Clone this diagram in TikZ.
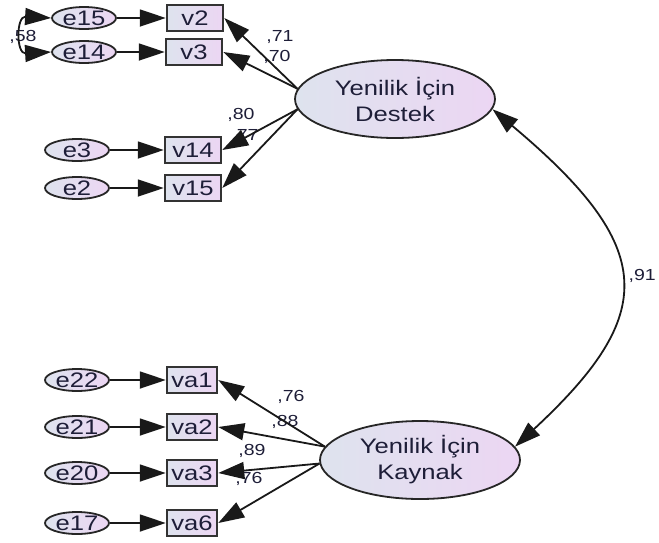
\documentclass[tikz,border=0pt]{standalone}
\usepackage{fontspec}
\setmainfont{Liberation Sans}[FakeStretch=1.22]
\usetikzlibrary{arrows.meta,shapes.geometric}
\definecolor{txt}{HTML}{1E1E38}
\definecolor{lc}{HTML}{DEE3EE}
\definecolor{rc}{HTML}{ECD6F3}
\begin{document}
\begin{tikzpicture}[x=1pt,y=-1pt,
  obs/.style={draw=black!80, line width=2.5pt, left color=lc, right color=rc,
    minimum width=56pt, minimum height=26pt, inner sep=0pt,
    font=\fontsize{21}{21}\selectfont, text=txt},
  obsb/.style={obs, minimum width=50pt},
  err/.style={ellipse, draw=black!85, line width=1.8pt, left color=lc, right color=rc,
    minimum width=64pt, minimum height=22pt, inner sep=0pt,
    font=\fontsize{21}{21}\selectfont, text=txt},
  lat/.style={ellipse, draw=black!85, line width=1.8pt, left color=lc, right color=rc,
    minimum width=200pt, minimum height=78pt, inner sep=0pt, align=center,
    font=\fontsize{21}{26}\selectfont, text=txt},
  tip/.tip={Triangle[length=26pt,width=17pt]},
  pth/.style={-tip, line width=1.8pt, draw=black!90},
  cov/.style={tip-tip, line width=1.8pt, draw=black!90},
  lbl/.style={font=\fontsize{16}{16}\selectfont, text=txt, inner sep=0pt}]
\useasboundingbox (0,0) rectangle (659,542);
% latent variables
\node[lat] (D) at (395,99) {Yenilik İçin\\Destek};
\node[lat] (K) at (420,460) {Yenilik İçin\\Kaynak};
% observed
\node[obs] (v2) at (195,18) {v2};
\node[obs] (v3) at (194,52) {v3};
\node[obs] (v14) at (193,150) {v14};
\node[obs] (v15) at (193,188) {v15};
\node[obsb] (va1) at (192,380) {va1};
\node[obsb] (va2) at (192,427) {va2};
\node[obsb] (va3) at (192,473) {va3};
\node[obsb] (va6) at (192,523) {va6};
% errors
\node[err] (e15) at (84,18) {e15};
\node[err] (e14) at (84,52) {e14};
\node[err] (e3) at (77,150) {e3};
\node[err] (e2) at (77,188) {e2};
\node[err] (e22) at (77,380) {e22};
\node[err] (e21) at (77,427) {e21};
\node[err] (e20) at (77,473) {e20};
\node[err] (e17) at (77,523) {e17};
% labels (under the arrows)
\node[lbl] (l71) at (280,37) {,71};
\node[lbl] (l70) at (277,57) {,70};
\node[lbl] (l80) at (241,115) {,80};
\node[lbl] (l77) at (245,136) {,77};
\node[lbl] (l58) at (23,37) {,58};
\node[lbl, anchor=east] (l91) at (656,276) {,91};
\node[lbl] (la1) at (291,397) {,76};
\node[lbl] (la2) at (285,422) {,88};
\node[lbl] (la3) at (252,451) {,89};
\node[lbl] (la6) at (249,479) {,76};
% error paths
\foreach \e/\v in {e15/v2,e14/v3,e3/v14,e2/v15,e22/va1,e21/va2,e20/va3,e17/va6}
  \draw[pth] (\e) -- (\v);
% loadings
\draw[pth] (D.174) -- (v2.east);
\draw[pth] (D.174) -- (v3.east);
\draw[pth] (D.186) -- (v14.east);
\draw[pth] (D.186) -- (v15.east);
\draw[pth] (K.172) -- (va1.east);
\draw[pth] (K.172) -- (va2.east);
\draw[pth] (K.182) -- (va3.east);
\draw[pth] (K.182) -- (va6.east);
% covariances
\draw[cov] (e15.west) .. controls (16,16) and (16,54) .. (e14.west);
\draw[cov] (D.-6) .. controls (658,248) and (658,314) .. (K.8);
\end{tikzpicture}
\end{document}
